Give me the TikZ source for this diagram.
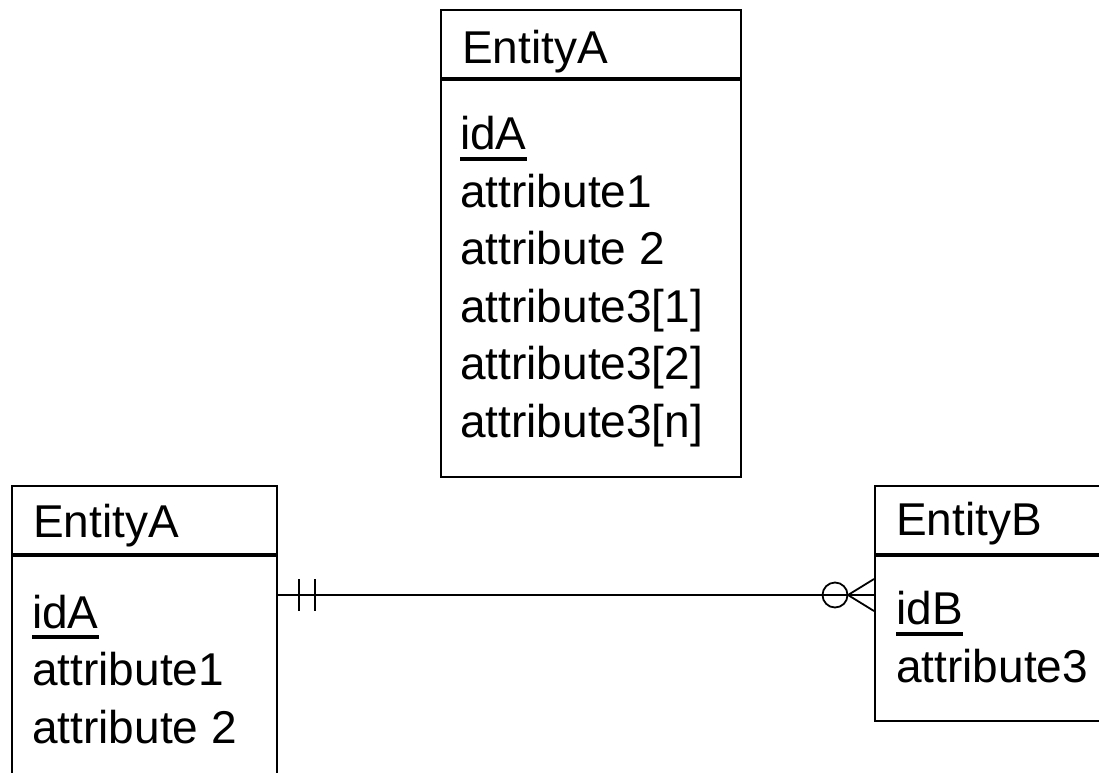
\documentclass[tikz,border=0pt]{standalone}
\usepackage{fontspec}
\setmainfont{Liberation Sans}
\usetikzlibrary{positioning,calc}
\newcommand{\pkfield}[1]{\setbox0\hbox{#1}\rlap{\rule[-11pt]{\wd0}{4pt}}\box0}

\begin{document}
\begin{tikzpicture}[x=1pt, y=-1pt,
  every node/.style={font=\fontsize{46}{57.5}\selectfont},
  head/.style={draw, line width=2pt, anchor=north west, minimum height=68pt, inner sep=0pt},
  body/.style={draw, line width=2pt, inner sep=0pt},
  title/.style={anchor=base west, inner sep=0pt},
  fields/.style={anchor=base west, align=left, inner sep=0pt},
  conn/.style={line width=1.8pt}]
  \useasboundingbox (0,0) rectangle (1099,772);

  % entity with repeating attribute
  \node[head, minimum width=300pt] (topHead) at (440,9) {};
  \node[body, minimum width=300pt, minimum height=397pt, below=0pt of topHead] (topBody) {};
  \node[title] (topTitle) at (462,63) {EntityA};
  % fields: placed by the baseline of the last line
  \node[fields] (topFields) at (460,437)
    {\pkfield{idA}\\attribute1\\attribute 2\\attribute3[1]\\attribute3[2]\\attribute3[n]};

  % entity A after the split
  \node[head, minimum width=265pt] (leftHead) at (11,485) {};
  \node[body, minimum width=265pt, minimum height=260pt, below=0pt of leftHead] (leftBody) {};
  \node[title] (leftTitle) at (33,537) {EntityA};
  \node[fields] (leftFields) at (32,743) {\pkfield{idA}\\attribute1\\attribute 2};

  % entity B
  \node[head, minimum width=250pt] (rightHead) at (874,485) {};
  \node[body, minimum width=250pt, minimum height=165pt, below=0pt of rightHead] (rightBody) {};
  \node[title] (rightTitle) at (896,535) {EntityB};
  \node[fields] (rightFields) at (896,682) {\pkfield{idB}\\attribute3};

  % one-to-many relationship
  \coordinate (oneEnd) at ($(leftHead.south east)+(0,40)$);
  \coordinate (manyEnd) at ($(rightHead.south west)+(0,40)$);
  \draw[conn] (oneEnd) -- (manyEnd);
  \draw[conn] ($(oneEnd)+(21,-16)$) -- ($(oneEnd)+(21,16)$);
  \draw[conn] ($(oneEnd)+(37,-16)$) -- ($(oneEnd)+(37,16)$);
  \draw[conn] ($(manyEnd)+(-39,0)$) circle[radius=12.5];
  \draw[conn] ($(manyEnd)+(0,-16)$) -- ($(manyEnd)+(-26,0)$) -- ($(manyEnd)+(0,16)$);
\end{tikzpicture}
\end{document}
